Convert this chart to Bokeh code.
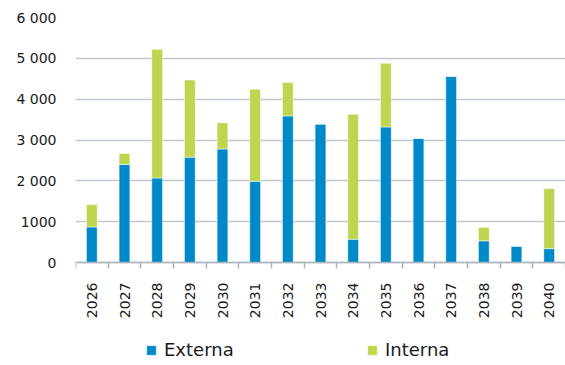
import math
from bokeh.plotting import figure
from bokeh.models import FixedTicker, Range1d, Legend, LegendItem, ColumnDataSource
from bokeh.embed import file_html
from bokeh.resources import INLINE

years = ["2026", "2027", "2028", "2029", "2030", "2031", "2032", "2033",
         "2034", "2035", "2036", "2037", "2038", "2039", "2040"]
externa = [870, 2400, 2070, 2580, 2780, 1990, 3590, 3390, 570, 3320, 3040, 4560, 530, 400, 340]
interna = [550, 270, 3150, 1890, 640, 2250, 820, 0, 3060, 1560, 0, 0, 330, 0, 1470]
y_ticks = [0, 1000, 2000, 3000, 4000, 5000, 6000]
y_tick_labels = ["0", "1000", "2 000", "3 000", "4 000", "5 000", "6 000"]

FONT = "DejaVu Sans"
TEXT = "#1a1a1a"
BLUE = "#0089c8"
GREEN = "#bed64f"
GRID = "#bfc8ce"

n = len(years)
pos = [i + 0.5 for i in range(n)]
src = ColumnDataSource(dict(x=pos, Externa=externa, Interna=interna))

# the frame reaches down to the page bottom so that the year labels and the
# legend (both below the zero line) stay inside it; 0..6000 spans 245 px
y_top = 6000
y_bottom = y_top - 348 * y_top / 245

p = figure(frame_width=490, frame_height=348, output_backend="svg", toolbar_location=None,
           x_range=Range1d(0, n), y_range=Range1d(y_bottom, y_top),
           min_border_left=75, min_border_right=0, min_border_top=17, min_border_bottom=0)
p.outline_line_color = None
p.background_fill_color = "white"
p.border_fill_color = "white"

r = p.vbar_stack(["Externa", "Interna"], x="x", width=0.33, source=src,
                 color=[BLUE, GREEN], line_color="white", line_alpha=0.5, line_width=1)

# x axis, pinned at the zero line
p.xaxis.fixed_location = 0
p.xaxis.ticker = FixedTicker(ticks=pos, minor_ticks=list(range(n + 1)))
p.xaxis.major_label_overrides = {v: y for v, y in zip(pos, years)}
p.xaxis.major_label_orientation = math.pi / 2
p.xaxis.major_tick_line_color = None
p.xaxis.major_tick_out = 0
p.xaxis.major_tick_in = 0
p.xaxis.minor_tick_line_color = "#aab5bd"
p.xaxis.minor_tick_line_width = 1.5
p.xaxis.minor_tick_out = 6
p.xaxis.minor_tick_in = 0
p.xaxis.axis_line_color = "#aab5bd"
p.xaxis.axis_line_width = 1.5
p.xaxis.major_label_standoff = 14
p.xaxis.major_label_text_font = FONT
p.xaxis.major_label_text_font_size = "14px"
p.xaxis.major_label_text_color = TEXT

# y axis
p.yaxis.ticker = FixedTicker(ticks=y_ticks)
p.yaxis.major_label_overrides = {v: s for v, s in zip(y_ticks, y_tick_labels)}
p.yaxis.axis_line_color = None
p.yaxis.major_tick_line_color = None
p.yaxis.minor_tick_line_color = None
p.yaxis.major_tick_out = 0
p.yaxis.major_tick_in = 0
p.yaxis.major_label_standoff = 19
p.yaxis.major_label_text_font = FONT
p.yaxis.major_label_text_font_size = "14px"
p.yaxis.major_label_text_color = TEXT

p.xgrid.grid_line_color = None
p.ygrid.ticker = FixedTicker(ticks=y_ticks)
p.ygrid.grid_line_color = GRID
p.ygrid.grid_line_width = 1.5

legend = Legend(items=[LegendItem(label="Externa", renderers=[r[0]]),
                       LegendItem(label="Interna", renderers=[r[1]])],
                orientation="horizontal", location=(70, 5),
                padding=0, margin=0, spacing=92, label_width=110,
                glyph_width=12, glyph_height=12, label_standoff=7,
                label_text_font=FONT, label_text_font_size="18px",
                label_text_color=TEXT, border_line_color=None,
                background_fill_alpha=0)
p.add_layout(legend, "center")

open("out.html", "w").write(file_html(p, INLINE))
